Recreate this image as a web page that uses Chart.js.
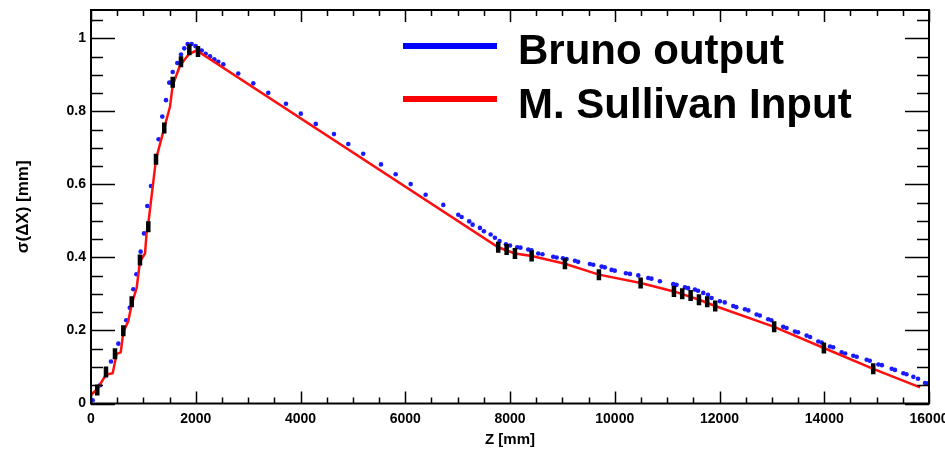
<!DOCTYPE html>
<html>
<head>
<meta charset="utf-8">
<script src="https://cdn.jsdelivr.net/npm/chart.js@4.4.1/dist/chart.umd.min.js"></script>
<style>
html,body{margin:0;padding:0;background:#ffffff;}
#wrap{width:945px;height:452px;position:relative;}
</style>
</head>
<body>
<div id="wrap"><canvas id="c" width="945" height="452"></canvas></div>
<script>
// ---------------- data ----------------
const X_TICKS = [0, 2000, 4000, 6000, 8000, 10000, 12000, 14000, 16000];
const Y_TICKS = [0, 0.2, 0.4, 0.6, 0.8, 1];
const X_TITLE = 'Z [mm]';
const Y_TITLE = 'σ(ΔX) [mm]';
const SERIES_LABELS = ['Bruno output', 'M. Sullivan Input', 'Measured points'];

// Bruno output (blue dots)
const BRUNO_Z = [32, 172, 382, 522, 672, 740, 808, 866, 948, 1012, 1075, 1145, 1290, 1361, 1432, 1495, 1560, 1648, 1718, 1781,
  1846, 1922, 1998, 2113, 2189, 2272, 2354, 2430, 2526, 2812, 3099, 3385, 3723, 4006, 4292, 4639, 4913, 5198, 5537, 5817,
  6103, 6389, 6726, 7012, 7076, 7221, 7286, 7426, 7502, 7630, 7712, 7800, 7922, 8000, 8138, 8200, 8348, 8410, 8539, 8620,
  8825, 8890, 9010, 9080, 9240, 9300, 9526, 9590, 9749, 9810, 9940, 10000, 10213, 10290, 10449, 10640, 10700, 10862, 11117, 11180,
  11340, 11400, 11531, 11590, 11690, 11780, 11849, 12008, 12100, 12263, 12320, 12486, 12550, 12709, 12770, 12930, 12990, 13216, 13280, 13440,
  13500, 13663, 13730, 13886, 13950, 14109, 14170, 14332, 14400, 14555, 14620, 14810, 14870, 15033, 15100, 15288, 15350, 15510, 15570, 15701,
  15790, 15924, 15990];
const BRUNO_S = [0.009, 0.050, 0.115, 0.164, 0.228, 0.262, 0.313, 0.354, 0.416, 0.466, 0.541, 0.596, 0.724, 0.786, 0.831, 0.879, 0.908, 0.933, 0.956, 0.973,
  0.985, 0.985, 0.979, 0.967, 0.958, 0.951, 0.943, 0.936, 0.929, 0.904, 0.877, 0.851, 0.821, 0.794, 0.766, 0.738, 0.711, 0.684, 0.655, 0.628,
  0.601, 0.572, 0.544, 0.517, 0.511, 0.499, 0.490, 0.481, 0.472, 0.463, 0.454, 0.445, 0.436, 0.433, 0.428, 0.427, 0.422, 0.420, 0.411, 0.409,
  0.402, 0.400, 0.398, 0.396, 0.391, 0.388, 0.382, 0.380, 0.375, 0.373, 0.366, 0.364, 0.357, 0.355, 0.351, 0.344, 0.342, 0.335, 0.327, 0.325,
  0.318, 0.316, 0.312, 0.309, 0.303, 0.298, 0.289, 0.280, 0.277, 0.267, 0.264, 0.258, 0.255, 0.244, 0.241, 0.231, 0.228, 0.210, 0.207, 0.197,
  0.195, 0.186, 0.182, 0.170, 0.167, 0.156, 0.154, 0.140, 0.137, 0.131, 0.128, 0.120, 0.117, 0.107, 0.105, 0.095, 0.092, 0.083, 0.080, 0.073,
  0.068, 0.056, 0.055];

// M. Sullivan input (red line)
const SULLIVAN_Z = [0, 120, 286, 414, 490, 567, 617, 712, 777, 872, 935, 1031, 1063, 1094, 1241, 1399, 1508, 1560, 1699, 1877,
  2017, 7775, 8094, 8413, 9049, 9698, 10494, 11130, 11600, 11918, 13044, 13993, 14935, 15830];
const SULLIVAN_S = [0.023, 0.040, 0.079, 0.083, 0.136, 0.140, 0.195, 0.226, 0.272, 0.317, 0.389, 0.411, 0.470, 0.493, 0.669, 0.755, 0.813, 0.872, 0.926, 0.958,
  0.967, 0.428, 0.411, 0.404, 0.383, 0.353, 0.330, 0.307, 0.285, 0.267, 0.210, 0.152, 0.095, 0.044];

// measured points (black markers)
const MEAS_Z = [120, 286, 458, 617, 777, 935, 1094, 1241, 1399, 1560, 1718, 1877, 2043,
  7775, 7936, 8094, 8413, 9049, 9698, 10494, 11130, 11288, 11449, 11608, 11765, 11918, 13044, 13993, 14935];
const MEAS_S = [0.037, 0.086, 0.136, 0.199, 0.279, 0.393, 0.484, 0.669, 0.755, 0.880, 0.936, 0.969, 0.964,
  0.428, 0.422, 0.411, 0.404, 0.383, 0.353, 0.330, 0.307, 0.301, 0.296, 0.284, 0.279, 0.267, 0.210, 0.152, 0.095];

// ---------------- chart ----------------
const SANS = "'Liberation Sans', Arial, sans-serif";
const zip = (xs, ys) => xs.map((x, i) => ({x: x, y: ys[i]}));

const frameTicks = {
  id: 'frameTicks',
  afterDatasetsDraw(chart) {
    const {ctx, chartArea: a, scales: {x, y}} = chart;
    ctx.save();
    ctx.strokeStyle = '#000';
    ctx.lineWidth = 1.5;
    ctx.beginPath();
    for (let v = 0; v <= 16000 + 1e-6; v += 500) {
      const px = Math.round(x.getPixelForValue(v)) + 0.5;
      const len = (v % 2000 === 0) ? 12 : 6;
      ctx.moveTo(px, a.bottom); ctx.lineTo(px, a.bottom - len);
      ctx.moveTo(px, a.top); ctx.lineTo(px, a.top + len);
    }
    for (let i = 0; i * 0.05 <= y.max + 1e-9; i++) {
      const v = i * 0.05;
      const py = Math.round(y.getPixelForValue(v)) + 0.5;
      const len = (i % 4 === 0) ? 24 : 12;
      ctx.moveTo(a.left, py); ctx.lineTo(a.left + len, py);
      ctx.moveTo(a.right, py); ctx.lineTo(a.right - len, py);
    }
    ctx.stroke();
    ctx.lineWidth = 2;
    ctx.strokeRect(a.left, a.top, a.right - a.left, a.bottom - a.top);
    ctx.restore();
  }
};

const bigLegend = {
  id: 'bigLegend',
  afterDraw(chart) {
    const ctx = chart.ctx;
    const items = [
      {ds: chart.data.datasets[2], color: '#0000ff', ly: 46, ty: 64},
      {ds: chart.data.datasets[1], color: '#ff0000', ly: 99, ty: 118}
    ];
    ctx.save();
    items.forEach(it => {
      ctx.fillStyle = it.color;
      ctx.fillRect(403, it.ly - 3, 94, 6);
      ctx.fillStyle = '#000';
      ctx.font = 'bold 42px ' + SANS;
      ctx.textBaseline = 'alphabetic';
      ctx.textAlign = 'left';
      ctx.fillText(it.ds.label, 518, it.ty);
    });
    ctx.restore();
  }
};

new Chart(document.getElementById('c'), {
  type: 'scatter',
  data: {
    datasets: [
      {
        label: SERIES_LABELS[2],
        data: zip(MEAS_Z, MEAS_S),
        pointStyle: 'line',
        rotation: 90,
        pointRadius: 5.5,
        borderWidth: 4.5,
        borderColor: '#000000',
        backgroundColor: '#000000',
        order: 0
      },
      {
        type: 'line',
        label: SERIES_LABELS[1],
        data: zip(SULLIVAN_Z, SULLIVAN_S),
        borderColor: '#ff1010',
        borderWidth: 2.5,
        pointRadius: 0,
        tension: 0,
        fill: false,
        order: 1
      },
      {
        label: SERIES_LABELS[0],
        data: zip(BRUNO_Z, BRUNO_S),
        pointStyle: 'circle',
        pointRadius: 2.3,
        borderWidth: 0,
        backgroundColor: '#1a1aff',
        order: 2
      }
    ]
  },
  options: {
    responsive: false,
    animation: false,
    devicePixelRatio: 1,
    layout: {padding: {top: 5, right: 16, left: 0, bottom: 0}},
    plugins: {legend: {display: false}, tooltip: {enabled: false}},
    scales: {
      x: {
        type: 'linear', min: 0, max: 16000,
        afterBuildTicks: s => { s.ticks = X_TICKS.map(v => ({value: v})); },
        afterFit: s => { s.height = 48.5; s.paddingLeft = 0; s.paddingRight = 0; },
        grid: {display: false, drawTicks: false},
        border: {display: false},
        ticks: {
          padding: 7, maxRotation: 0, autoSkip: false, color: '#000',
          font: {family: SANS, size: 14, weight: 'bold'},
          callback: v => String(v)
        },
        title: {display: true, text: X_TITLE, color: '#000',
          font: {family: SANS, size: 15, weight: 'bold'}, padding: {top: 0, bottom: 3}}
      },
      y: {
        type: 'linear', min: 0, max: 1.078,
        afterBuildTicks: s => { s.ticks = Y_TICKS.map(v => ({value: v})); },
        afterFit: s => { s.width = 91; s.paddingTop = 0; s.paddingBottom = 0; },
        grid: {display: false, drawTicks: false},
        border: {display: false},
        ticks: {
          padding: 5, color: '#000',
          font: {family: SANS, size: 14, weight: 'bold'},
          callback: v => String(Number(v.toFixed(1)))
        },
        title: {display: true, text: Y_TITLE, color: '#000',
          font: {family: SANS, size: 17, weight: 'bold'}, padding: {top: 13, bottom: 0}}
      }
    }
  },
  plugins: [frameTicks, bigLegend]
});
</script>
</body>
</html>
